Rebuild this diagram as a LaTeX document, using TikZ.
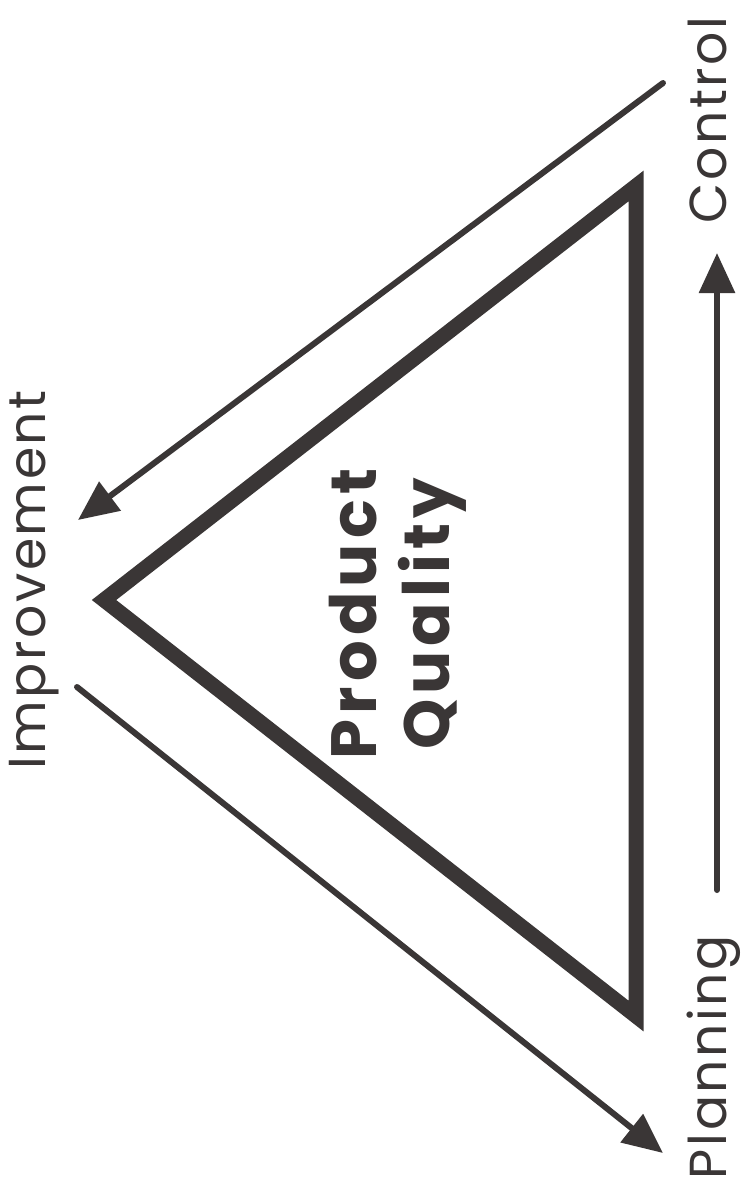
\documentclass[tikz,border=0pt]{standalone}
\usepackage{fontspec}
\setmainfont{Poppins}
\newfontfamily\labfont[LetterSpace=5]{Poppins}
\newfontfamily\pqfont[LetterSpace=8]{Poppins Bold}
\usetikzlibrary{arrows.meta}
\definecolor{ink}{RGB}{58,54,54}
\begin{document}
\begin{tikzpicture}[x=1pt,y=-1pt,
  lab/.style={rotate=90, anchor=base, text=ink, inner sep=0pt,
    font=\labfont\fontsize{52}{60}\selectfont},
  pq/.style={rotate=90, align=center, text=ink, inner sep=0pt,
    font=\pqfont\fontsize{64}{73}\selectfont},
  arr/.style={draw=ink, line width=6pt, line cap=round,
    -{Triangle[length=40pt,width=35pt]}},
  tri/.style={draw=ink, line width=15pt, line join=miter, miter limit=10}
]
\useasboundingbox (0,0) rectangle (743,1194);
\fill[white] (0,0) rectangle (743,1194);
% triangle
\coordinate (tl) at (104,600);
\coordinate (tt) at (636,186);
\coordinate (tb) at (636,1016);
\draw[tri] (tl) -- (tt) -- (tb) -- cycle;
% labels
\node[lab] (imp) at (45,580) {Improvement};
\node[lab] (ctl) at (726,120) {Control};
\node[lab] (pln) at (726,1057) {Planning};
\node[pq] (pql) at (398,614) {Product\\Quality};
% arrows
\coordinate (c1) at (663,83);
\coordinate (i1) at (78,520);
\coordinate (i2) at (77,687);
\coordinate (p1) at (663,1153);
\coordinate (p2) at (717,890);
\coordinate (c2) at (717,253);
\draw[arr] (c1) -- (i1);
\draw[arr] (i2) -- (p1);
\draw[arr] (p2) -- (c2);
\end{tikzpicture}
\end{document}
